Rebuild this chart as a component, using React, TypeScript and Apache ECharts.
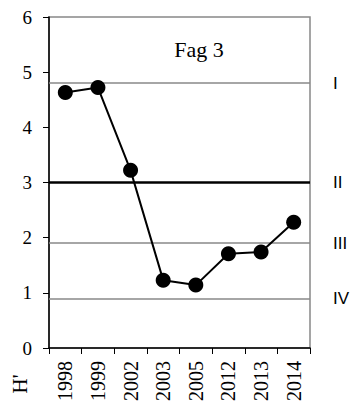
import React, { useEffect, useRef } from "react";
import * as echarts from "echarts";

const years = ["1998", "1999", "2002", "2003", "2005", "2012", "2013", "2014"];
const hValues = [4.63, 4.72, 3.22, 1.23, 1.14, 1.71, 1.74, 2.28];
const classLevels = [4.8, 3, 1.9, 0.9];
const classLabels = ["I", "II", "III", "IV"];
const yTicks = [0, 1, 2, 3, 4, 5, 6];
const titleText = "Fag 3";
const yName = "H'";

export default function App() {
  const ref = useRef<HTMLDivElement>(null);
  useEffect(() => {
    if (!ref.current) return;
    const chart = echarts.init(ref.current, null, { renderer: "svg" });
    const serif = "Liberation Serif";
    chart.setOption({
      animation: false,
      backgroundColor: "#fff",
      title: {
        text: titleText,
        left: 194,
        top: 33,
        textAlign: "center",
        textStyle: { fontFamily: serif, fontSize: 22, fontWeight: "normal", color: "#000" },
      },
      graphic: [
        {
          type: "text",
          x: 20,
          y: 384,
          rotation: Math.PI / 2,
          style: {
            text: yName,
            fontFamily: serif,
            fontSize: 21,
            fill: "#000",
            textAlign: "center",
            textVerticalAlign: "middle",
          },
        },
      ],
      grid: {
        left: 49,
        right: 41,
        top: 17,
        bottom: 61,
        show: true,
        borderColor: "#888",
        borderWidth: 1.5,
        backgroundColor: "rgba(0,0,0,0)",
      },
      xAxis: {
        type: "category",
        data: years,
        boundaryGap: true,
        axisLine: { lineStyle: { color: "#000", width: 1.5 }, onZero: false },
        axisTick: { show: true, length: 6, inside: false, lineStyle: { color: "#000" } },
        axisLabel: {
          rotate: 90,
          margin: 13,
          fontFamily: serif,
          fontSize: 20,
          color: "#000",
        },
        splitLine: { show: false },
        z: 3,
      },
      yAxis: {
        type: "value",
        min: yTicks[0],
        max: yTicks[yTicks.length - 1],
        interval: 1,
        axisLine: { show: true, lineStyle: { color: "#000", width: 1.5 } },
        axisTick: { show: true, length: 6, lineStyle: { color: "#000" } },
        axisLabel: { margin: 17, fontFamily: serif, fontSize: 19, color: "#000" },
        splitLine: { show: false },
        z: 3,
      },
      series: [
        {
          type: "line",
          data: hValues,
          symbol: "circle",
          symbolSize: 15,
          itemStyle: { color: "#000" },
          lineStyle: { color: "#000", width: 2 },
          z: 5,
          markLine: {
            silent: true,
            symbol: "none",
            animation: false,
            label: {
              show: true,
              position: "end",
              distance: 23,
              formatter: (p: any) => classLabels[p.dataIndex],
              fontFamily: "Liberation Sans",
              fontSize: 17,
              color: "#000",
            },
            data: classLevels.map((v) => ({
              yAxis: v,
              lineStyle: {
                color: v === 3 ? "#000" : "#888",
                width: v === 3 ? 2.5 : 1.5,
                type: "solid",
              },
            })),
          },
        },
      ],
    });
    return () => chart.dispose();
  }, []);
  return (
    <div
      ref={ref}
      style={{ position: "absolute", left: 0, top: 0, width: 351, height: 409 }}
    />
  );
}
